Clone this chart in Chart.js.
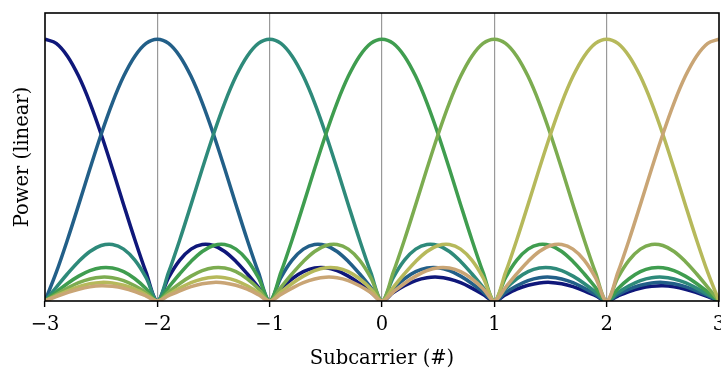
<!DOCTYPE html>
<html>
<head>
  <meta charset="utf-8" />
  <script src="https://cdn.jsdelivr.net/npm/chart.js@4.4.1/dist/chart.umd.min.js"></script>
  <style>
    html,body{margin:0;padding:0;background:#fff;}
    #wrap{width:721px;height:369px;}
  </style>
</head>
<body>
<div id="wrap"><canvas id="ofdm"></canvas></div>

<script>
// frequency axis, 0.1 subcarrier spacing
const FREQ = [
  -3.0,-2.9,-2.8,-2.7,-2.6,-2.5,-2.4,-2.3,-2.2,-2.1,
  -2.0,-1.9,-1.8,-1.7,-1.6,-1.5,-1.4,-1.3,-1.2,-1.1,
  -1.0,-0.9,-0.8,-0.7,-0.6,-0.5,-0.4,-0.3,-0.2,-0.1,
   0.0, 0.1, 0.2, 0.3, 0.4, 0.5, 0.6, 0.7, 0.8, 0.9,
   1.0, 1.1, 1.2, 1.3, 1.4, 1.5, 1.6, 1.7, 1.8, 1.9,
   2.0, 2.1, 2.2, 2.3, 2.4, 2.5, 2.6, 2.7, 2.8, 2.9,
   3.0
];

const SUBCARRIERS = [-3, -2, -1, 0, 1, 2, 3];
const COLORS = ['#0f177a', '#225f88', '#2e8a7a', '#3f9d4f', '#7cac50', '#b6b95b', '#c9a575'];

const sc_m3 = [
  1.000,0.984,0.935,0.858,0.757,0.637,0.505,0.368,0.234,0.109,
  0,0.089,0.156,0.198,0.216,0.212,0.189,0.151,0.104,0.052,
  0,0.047,0.085,0.112,0.126,0.127,0.116,0.095,0.067,0.034,
  0,0.032,0.058,0.078,0.089,0.091,0.084,0.070,0.049,0.025,
  0,0.024,0.045,0.060,0.069,0.071,0.066,0.055,0.039,0.020,
  0,0.019,0.036,0.049,0.056,0.058,0.054,0.045,0.032,0.017,
  0
];
const sc_m2 = [
  0,0.109,0.234,0.368,0.505,0.637,0.757,0.858,0.935,0.984,
  1.000,0.984,0.935,0.858,0.757,0.637,0.505,0.368,0.234,0.109,
  0,0.089,0.156,0.198,0.216,0.212,0.189,0.151,0.104,0.052,
  0,0.047,0.085,0.112,0.126,0.127,0.116,0.095,0.067,0.034,
  0,0.032,0.058,0.078,0.089,0.091,0.084,0.070,0.049,0.025,
  0,0.024,0.045,0.060,0.069,0.071,0.066,0.055,0.039,0.020,
  0
];
const sc_m1 = [
  0,0.052,0.104,0.151,0.189,0.212,0.216,0.198,0.156,0.089,
  0,0.109,0.234,0.368,0.505,0.637,0.757,0.858,0.935,0.984,
  1.000,0.984,0.935,0.858,0.757,0.637,0.505,0.368,0.234,0.109,
  0,0.089,0.156,0.198,0.216,0.212,0.189,0.151,0.104,0.052,
  0,0.047,0.085,0.112,0.126,0.127,0.116,0.095,0.067,0.034,
  0,0.032,0.058,0.078,0.089,0.091,0.084,0.070,0.049,0.025,
  0
];
const sc_0 = [
  0,0.034,0.067,0.095,0.116,0.127,0.126,0.112,0.085,0.047,
  0,0.052,0.104,0.151,0.189,0.212,0.216,0.198,0.156,0.089,
  0,0.109,0.234,0.368,0.505,0.637,0.757,0.858,0.935,0.984,
  1.000,0.984,0.935,0.858,0.757,0.637,0.505,0.368,0.234,0.109,
  0,0.089,0.156,0.198,0.216,0.212,0.189,0.151,0.104,0.052,
  0,0.047,0.085,0.112,0.126,0.127,0.116,0.095,0.067,0.034,
  0
];
const sc_p1 = [
  0,0.025,0.049,0.070,0.084,0.091,0.089,0.078,0.058,0.032,
  0,0.034,0.067,0.095,0.116,0.127,0.126,0.112,0.085,0.047,
  0,0.052,0.104,0.151,0.189,0.212,0.216,0.198,0.156,0.089,
  0,0.109,0.234,0.368,0.505,0.637,0.757,0.858,0.935,0.984,
  1.000,0.984,0.935,0.858,0.757,0.637,0.505,0.368,0.234,0.109,
  0,0.089,0.156,0.198,0.216,0.212,0.189,0.151,0.104,0.052,
  0
];
const sc_p2 = [
  0,0.020,0.039,0.055,0.066,0.071,0.069,0.060,0.045,0.024,
  0,0.025,0.049,0.070,0.084,0.091,0.089,0.078,0.058,0.032,
  0,0.034,0.067,0.095,0.116,0.127,0.126,0.112,0.085,0.047,
  0,0.052,0.104,0.151,0.189,0.212,0.216,0.198,0.156,0.089,
  0,0.109,0.234,0.368,0.505,0.637,0.757,0.858,0.935,0.984,
  1.000,0.984,0.935,0.858,0.757,0.637,0.505,0.368,0.234,0.109,
  0
];
const sc_p3 = [
  0,0.017,0.032,0.045,0.054,0.058,0.056,0.049,0.036,0.019,
  0,0.020,0.039,0.055,0.066,0.071,0.069,0.060,0.045,0.024,
  0,0.025,0.049,0.070,0.084,0.091,0.089,0.078,0.058,0.032,
  0,0.034,0.067,0.095,0.116,0.127,0.126,0.112,0.085,0.047,
  0,0.052,0.104,0.151,0.189,0.212,0.216,0.198,0.156,0.089,
  0,0.109,0.234,0.368,0.505,0.637,0.757,0.858,0.935,0.984,
  1.000
];

const SERIES = [sc_m3, sc_m2, sc_m1, sc_0, sc_p1, sc_p2, sc_p3];

const FONT = "'DejaVu Serif', serif";
const minus = v => String(v).replace('-', '\u2212');

// black frame round the plot area
const frame = {
  id: 'frame',
  afterDatasetsDraw(chart){
    const a = chart.chartArea, ctx = chart.ctx;
    ctx.save();
    ctx.strokeStyle = '#000';
    ctx.lineWidth = 1.6;
    ctx.strokeRect(a.left, a.top, a.right - a.left, a.bottom - a.top);
    ctx.restore();
  }
};

const datasets = SERIES.map((vals, i) => ({
  label: 'k = ' + SUBCARRIERS[i],
  data: vals.map((y, j) => ({ x: FREQ[j], y: y })),
  borderColor: COLORS[i],
  borderWidth: 3.5,
  pointRadius: 0,
  tension: 0.35,
  fill: false,
  order: SERIES.length - i
}));

new Chart(document.getElementById('ofdm'), {
  type: 'line',
  data: { datasets },
  options: {
    responsive: true,
    maintainAspectRatio: false,
    animation: false,
    events: [],
    layout: { padding: { top: 13, right: 2, left: 0, bottom: 0 } },
    plugins: { legend: { display: false }, tooltip: { enabled: false } },
    scales: {
      x: {
        type: 'linear',
        min: -3, max: 3,
        afterFit: s => { s.height = 68; s.paddingLeft = 0; s.paddingRight = 0; },
        ticks: {
          stepSize: 1,
          color: '#000',
          padding: 6,
          maxRotation: 0,
          font: { family: FONT, size: 19.5 },
          callback: v => minus(v)
        },
        grid: {
          color: ctx => (ctx.tick && (ctx.tick.value === -3 || ctx.tick.value === 3)) ? 'rgba(0,0,0,0)' : '#999',
          lineWidth: 1.2,
          tickColor: '#000',
          tickLength: 6,
          tickWidth: 1.4
        },
        border: { display: false },
        title: {
          display: true,
          text: 'Subcarrier (#)',
          color: '#000',
          font: { family: FONT, size: 19.5, lineHeight: 1 },
          padding: { top: 0, bottom: 0 }
        }
      },
      y: {
        min: 0, max: 1.1,
        afterFit: s => { s.width = 45; },
        ticks: { display: false },
        grid: { display: false },
        border: { display: false },
        title: {
          display: true,
          text: 'Power (linear)',
          color: '#000',
          font: { family: FONT, size: 19.5 },
          padding: { top: 11, bottom: 0 }
        }
      }
    }
  },
  plugins: [frame]
});
</script>
</body>
</html>
